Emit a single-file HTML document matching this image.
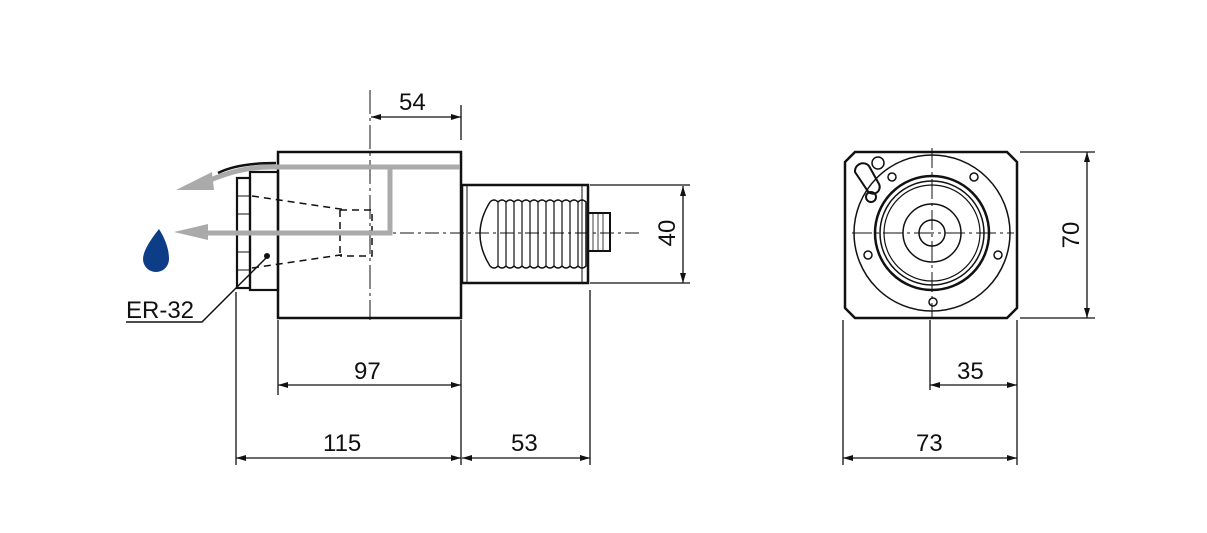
<!DOCTYPE html>
<html><head><meta charset="utf-8"><style>
html,body{margin:0;padding:0;background:#fff;width:1207px;height:533px;overflow:hidden}
svg{display:block}
text{font-family:"Liberation Sans",sans-serif;font-size:24px;fill:#111}
</style></head><body>
<svg width="1207" height="533" viewBox="0 0 1207 533">
<defs>
<marker id="a" viewBox="0 0 10 6" refX="10" refY="3" markerWidth="16" markerHeight="6" markerUnits="userSpaceOnUse" orient="auto-start-reverse"><path d="M0,0L10,3L0,6z" fill="#111"/></marker>
</defs>
<g stroke="#111" fill="none">
<!-- left body -->
<rect x="278" y="152" width="183" height="166" stroke-width="2.5"/>
<rect x="250" y="172" width="28" height="118" stroke-width="2.2"/>
<rect x="237" y="178" width="13" height="110" stroke-width="2.2"/>
<path d="M237,196h13M237,214h13M237,232h13M237,252h13M237,270h13" stroke-width="1"/>
<path d="M218,173q20,-10 58,-10" stroke-width="2.5"/>
<!-- shank -->
<rect x="462" y="185" width="126" height="98" stroke-width="2.5"/>
<path d="M467,186v96M582,186v96" stroke-width="1"/>
<path d="M490,202 q-20,32 0,64" stroke-width="1.5"/>
<g stroke-width="1.5">
<path d="M490,202q4,-4 8,0q4,-4 8,0q4,-4 8,0q4,-4 8,0q4,-4 8,0q4,-4 8,0q4,-4 8,0q4,-4 8,0q4,-4 8,0q4,-4 8,0q4,-4 8,0q4,-4 8,0v64q-4,4 -8,0q-4,4 -8,0q-4,4 -8,0q-4,4 -8,0q-4,4 -8,0q-4,4 -8,0q-4,4 -8,0q-4,4 -8,0q-4,4 -8,0q-4,4 -8,0q-4,4 -8,0q-4,4 -8,0"/>
<path d="M498,202v64M506,202v64M514,202v64M522,202v64M530,202v64M538,202v64M546,202v64M554,202v64M562,202v64M570,202v64M578,202v64" stroke-width="1.2"/>
</g>
<rect x="588" y="213" width="22" height="38" stroke-width="2"/>
<path d="M593,214v36M598,214v36M603,214v36" stroke-width="0.8"/>
<!-- dashed collet -->
<path d="M252,196l95,14M252,268l95,-14M340,210h32v46h-32M340,210v46" stroke-width="1.5" stroke-dasharray="7,5"/>
<path d="M200,233h440" stroke-width="1" stroke-dasharray="14,4,3,4"/>
<path d="M370,90v230" stroke-width="1" stroke-dasharray="24,4,3,4"/>
</g>
<!-- coolant arrows -->
<g stroke="#aaa" stroke-width="5" fill="none">
<path d="M460,167h-190q-30,0 -62,14"/>
<path d="M390,167v66h-185"/>
</g>
<polygon points="176,190 212,172 214,190" fill="#aaa"/>
<polygon points="174,232 208,224 208,240" fill="#aaa"/>
<!-- drop -->
<path d="M159,229q-16,20 -16,30a13,13 0 0 0 26,0q0,-14 -10,-30z" fill="#0d3d87"/>
<!-- ER-32 leader -->
<path d="M268,256l-66,66h-76" stroke="#111" fill="none" stroke-width="1.5"/>
<circle cx="267" cy="256" r="3" fill="#111"/>
<text x="126" y="318">ER-32</text>
<!-- dimensions -->
<g stroke="#111" stroke-width="1.3" fill="none">
<path d="M461,105v35"/>
<path d="M371,117h90" marker-start="url(#a)" marker-end="url(#a)"/>
<path d="M590,185h100M590,283h100"/>
<path d="M683,186v97" marker-start="url(#a)" marker-end="url(#a)"/>
<path d="M278,320v75M461,320v145M236,292v173M590,290v175"/>
<path d="M278,385h183" marker-start="url(#a)" marker-end="url(#a)"/>
<path d="M236,458h225" marker-start="url(#a)" marker-end="url(#a)"/>
<path d="M462,458h128" marker-start="url(#a)" marker-end="url(#a)"/>
<path d="M1020,152h75M1020,318h75"/>
<path d="M1087,152v166" marker-start="url(#a)" marker-end="url(#a)"/>
<path d="M843,320v145M1017,320v145M930,320v70"/>
<path d="M930,385h87" marker-start="url(#a)" marker-end="url(#a)"/>
<path d="M843,458h174" marker-start="url(#a)" marker-end="url(#a)"/>
</g>
<text x="399" y="110">54</text>
<text x="354" y="379">97</text>
<text x="323" y="451">115</text>
<text x="511" y="451">53</text>
<text x="957" y="379">35</text>
<text x="916" y="451">73</text>
<text transform="translate(675,233) rotate(-90)" text-anchor="middle">40</text>
<text transform="translate(1079,235) rotate(-90)" text-anchor="middle">70</text>
<!-- right view -->
<g stroke="#111" fill="none">
<path d="M855,152h152l10,10v146l-10,10h-152l-10,-10v-146z" stroke-width="2.5"/>
<circle cx="932" cy="233" r="78" stroke-width="1.5"/>
<circle cx="932" cy="233" r="57" stroke-width="2.5"/>
<circle cx="932" cy="233" r="52" stroke-width="1.5"/>
<circle cx="932" cy="233" r="48" stroke-width="1.2"/>
<circle cx="932" cy="233" r="29" stroke-width="1.5"/>
<circle cx="932" cy="233" r="13" stroke-width="1.5"/>
<circle cx="892" cy="177" r="4" stroke-width="1.5"/>
<circle cx="974" cy="177" r="4" stroke-width="1.5"/>
<circle cx="868" cy="255" r="4" stroke-width="1.5"/>
<circle cx="998" cy="255" r="4" stroke-width="1.5"/>
<circle cx="933" cy="302" r="4" stroke-width="1.5"/>
<circle cx="878" cy="163" r="6" stroke-width="1.5"/>
<path d="M855,172a8,8 0 0 1 14,-6l10,18a6,6 0 0 1 -12,6z" stroke-width="2"/>
<circle cx="871" cy="197" r="5" stroke-width="2"/>
<path d="M852,233h162M932,148v170" stroke-width="1" stroke-dasharray="20,4,3,4"/>
</g>
</svg>
</body></html>
